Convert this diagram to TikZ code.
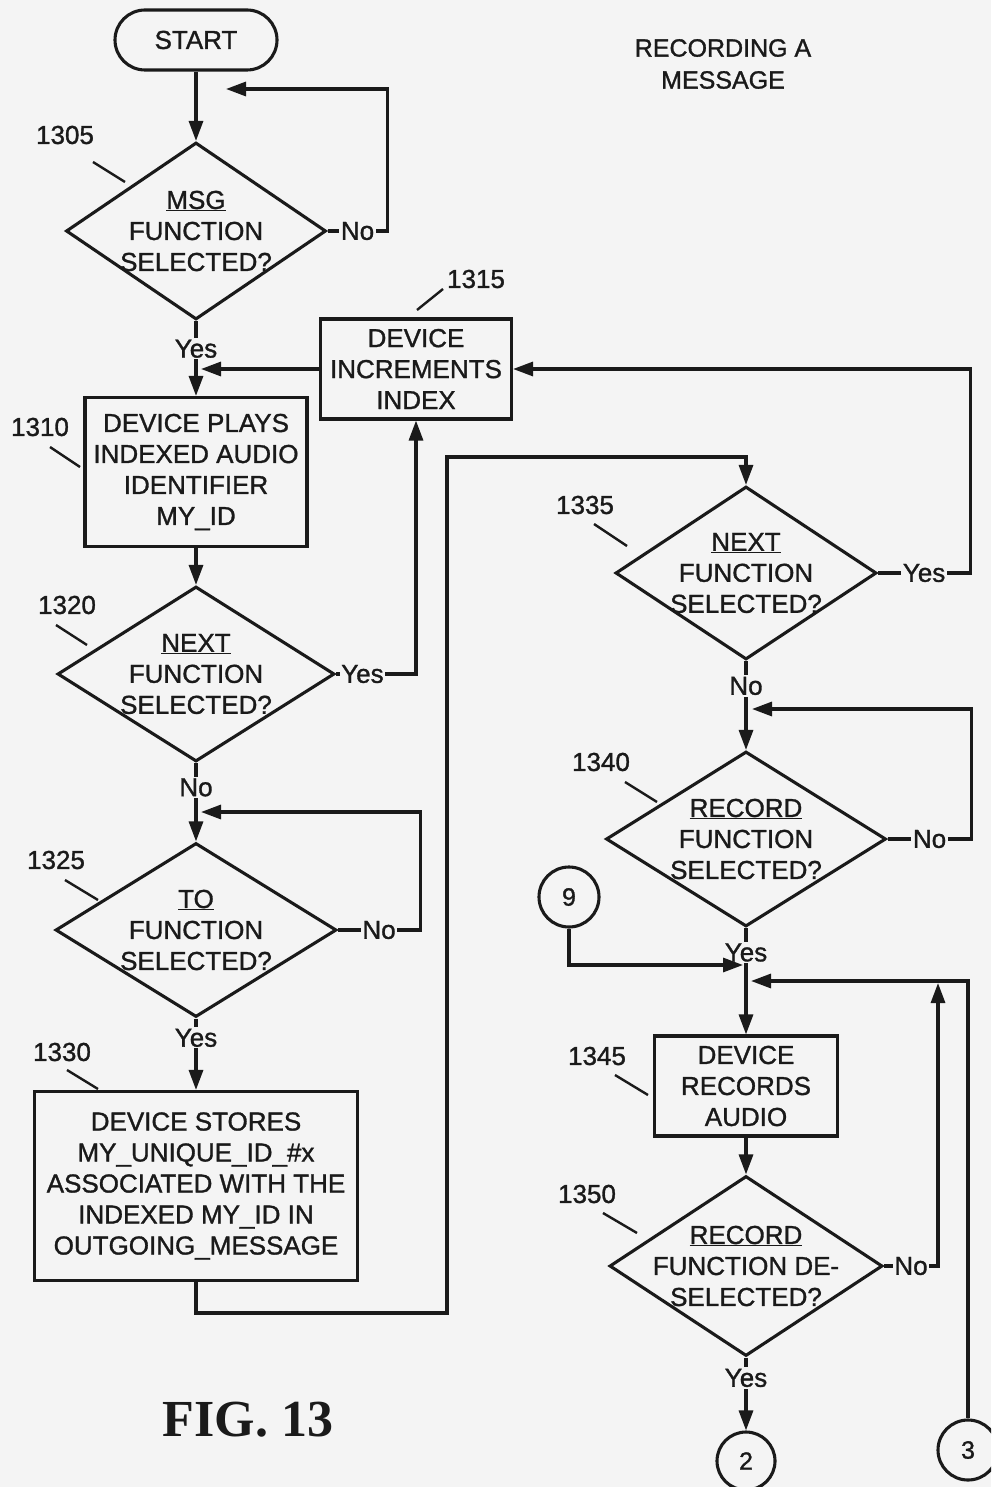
\documentclass[tikz,border=0pt]{standalone}
\usepackage{fontspec}
\setmainfont{Liberation Sans}[UprightFeatures={FakeBold=1.2}]
\newfontfamily\figfont{Liberation Serif}
\usetikzlibrary{shapes.geometric,arrows.meta}
\definecolor{bg}{HTML}{F4F4F4}
\definecolor{ink}{HTML}{1A1A1A}
\begin{document}
\begin{tikzpicture}[x=1pt,y=-1pt,line width=3.1pt,color=ink,
  font=\fontsize{26}{31}\selectfont,
  box/.style={draw,rectangle,inner sep=0pt,align=center},
  term/.style={draw,rectangle,rounded corners=30pt,inner sep=0pt,minimum width=162pt,minimum height=60pt},
  dia/.style={draw,diamond,inner sep=0pt},
  txt/.style={align=center,inner sep=0pt},
  tag/.style={fill=bg,inner sep=1.5pt},
  num/.style={inner sep=0pt},
  lead/.style={line width=2.4pt},
  arr/.style={-{Triangle[length=20pt,width=14pt]}},
  circ/.style={draw,circle,minimum size=60pt,inner sep=0pt,font=\fontsize{25}{30}\selectfont}]
\fill[bg] (0,0) rectangle (991,1487);
\useasboundingbox (0,0) rectangle (991,1487);
\clip (0,0) rectangle (991,1487);

% title
\node[txt,font=\fontsize{25}{32}\selectfont] (title) at (723,64) {RECORDING A\\MESSAGE};
\node[txt,font=\figfont\bfseries\fontsize{52}{60}\selectfont] (fig) at (248,1420) {FIG. 13};

% left column
\node[term] (start) at (196,40) {START};
\node[dia,minimum width=260pt,minimum height=177pt] (d05) at (196,231) {};
\node[txt] (d05t) at (196,231) {\underline{MSG}\\FUNCTION\\SELECTED?};
\node[box,minimum width=222pt,minimum height=149pt] (b10) at (196,472) {DEVICE PLAYS\\INDEXED AUDIO\\IDENTIFIER\\MY\_ID};
\node[box,minimum width=191pt,minimum height=100pt] (b15) at (416,369) {DEVICE\\INCREMENTS\\INDEX};
\node[dia,minimum width=277pt,minimum height=175pt] (d20) at (196,674) {};
\node[txt] (d20t) at (196,674) {\underline{NEXT}\\FUNCTION\\SELECTED?};
\node[dia,minimum width=281pt,minimum height=174pt] (d25) at (196,930) {};
\node[txt] (d25t) at (196,930) {\underline{TO}\\FUNCTION\\SELECTED?};
\node[box,minimum width=323pt,minimum height=189pt] (b30) at (196,1186) {DEVICE STORES\\MY\_UNIQUE\_ID\_\#x\\ASSOCIATED WITH THE\\INDEXED MY\_ID IN\\OUTGOING\_MESSAGE};

% right column
\node[dia,minimum width=261pt,minimum height=173pt] (d35) at (746,573) {};
\node[txt] (d35t) at (746,573) {\underline{NEXT}\\FUNCTION\\SELECTED?};
\node[dia,minimum width=280pt,minimum height=175pt] (d40) at (746,839) {};
\node[txt] (d40t) at (746,839) {\underline{RECORD}\\FUNCTION\\SELECTED?};
\node[box,minimum width=183pt,minimum height=100pt] (b45) at (746,1086) {DEVICE\\RECORDS\\AUDIO};
\node[dia,minimum width=273pt,minimum height=180pt] (d50) at (746,1266) {};
\node[txt] (d50t) at (746,1266) {\underline{RECORD}\\FUNCTION DE-\\SELECTED?};
\node[circ] (c9) at (569,897) {9};
\node[circ,minimum size=58pt] (c2) at (746,1461) {2};
\node[circ] (c3) at (968,1450) {3};

% reference numbers
\node[num] (n1305) at (65,135) {1305};
\node[num] (n1310) at (40,427) {1310};
\node[num] (n1315) at (476,279) {1315};
\node[num] (n1320) at (67,605) {1320};
\node[num] (n1325) at (56,860) {1325};
\node[num] (n1330) at (62,1052) {1330};
\node[num] (n1335) at (585,505) {1335};
\node[num] (n1340) at (601,762) {1340};
\node[num] (n1345) at (597,1056) {1345};
\node[num] (n1350) at (587,1194) {1350};
\draw[lead] (93,162) -- (125,182);
\draw[lead] (50,447) -- (80,467);
\draw[lead] (417,310) -- (443,289);
\draw[lead] (56,625) -- (87,645);
\draw[lead] (65,880) -- (98,900);
\draw[lead] (67,1070) -- (98,1089);
\draw[lead] (594,524) -- (627,546);
\draw[lead] (625,782) -- (657,802);
\draw[lead] (615,1075) -- (648,1095);
\draw[lead] (603,1213) -- (637,1233);

% connector end points
\coordinate (in05) at (226,89);
\coordinate (in10) at (201,369);
\coordinate (in25) at (201,812);
\coordinate (in40) at (752,709);
\coordinate (in45a) at (743,965);
\coordinate (in45b) at (751,981);
\coordinate (in45c) at (938,983);

% connectors
\draw[arr] (start.south) -- (d05.north);
\draw[arr] (d05.east) -- node[tag]{No} ++(60,0) |- (in05);
\draw[arr] (d05.south) -- node[tag,pos=0.37]{Yes} (b10.north);
\draw[arr] (b15.west) -- (in10);
\draw[arr] (b10.south) -- (d20.north);
\draw[arr] (d20.east) -- node[tag,pos=0.33]{Yes} (d20.east -| b15.south) -- (b15.south);
\draw[arr] (d20.south) -- node[tag,pos=0.31]{No} (d25.north);
\draw[arr] (d25.east) -- node[tag]{No} ++(82,0) |- (in25);
\draw[arr] (d25.south) -- node[tag,pos=0.27]{Yes} (b30.north);
\draw[arr] (b30.south) |- (447,1313) |- (746,457) -- (d35.north);
\draw[arr] (d35.east) -- node[tag]{Yes} ++(92,0) |- (b15.east);
\draw[arr] (d35.south) -- node[tag,pos=0.28]{No} (d40.north);
\draw[arr] (d40.east) -- node[tag]{No} ++(84,0) |- (in40);
\draw[arr] (d40.south) -- node[tag,pos=0.23]{Yes} (b45.north);
\draw[arr] (c9.south) |- (in45a);
\draw[arr] (c3.north) |- (in45b);
\draw[arr] (b45.south) -- (d50.north);
\draw[arr] (d50.east) -- node[tag]{No} (d50.east -| in45c) -- (in45c);
\draw[arr] (d50.south) -- node[tag,pos=0.28]{Yes} (c2.north);
\end{tikzpicture}
\end{document}
